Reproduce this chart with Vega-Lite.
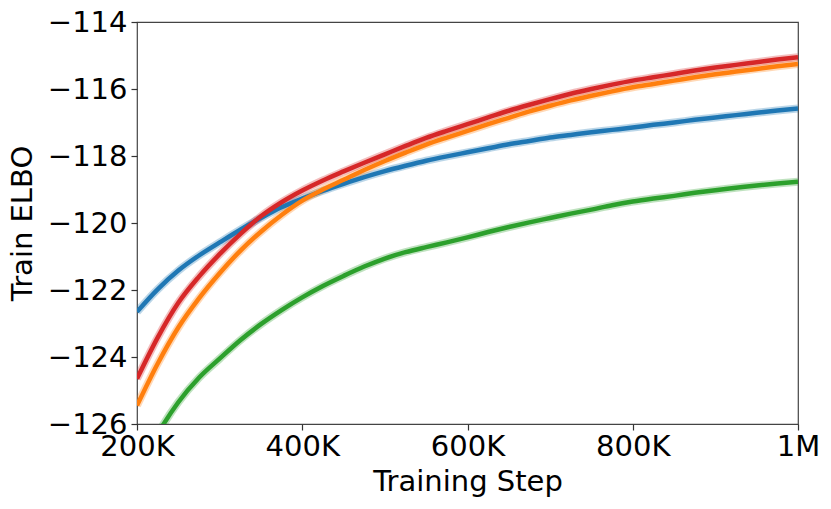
{
  "$schema": "https://vega.github.io/schema/vega-lite/v6.json",
  "width": 661,
  "height": 402,
  "autosize": {"type": "none"},
  "padding": {"left": 137, "top": 22, "right": 33, "bottom": 85},
  "config": {
    "font": "DejaVu Sans",
    "view": {"stroke": "#444", "strokeWidth": 1.2},
    "axis": {
      "grid": false,
      "domain": false,
      "ticks": true,
      "tickColor": "#333",
      "tickSize": 6,
      "tickWidth": 1.2,
      "labelFontSize": 29,
      "labelColor": "#000",
      "labelFlush": false,
      "labelOverlap": false,
      "labelBound": false,
      "titleFontSize": 29,
      "titleFontWeight": "normal",
      "titleColor": "#000"
    }
  },
  "data": {
    "values": [
      {"step": 200, "series": "A", "elbo": -127.5},
      {"step": 225, "series": "A", "elbo": -126.3},
      {"step": 250, "series": "A", "elbo": -125.35},
      {"step": 275, "series": "A", "elbo": -124.62},
      {"step": 300, "series": "A", "elbo": -124.05},
      {"step": 325, "series": "A", "elbo": -123.5},
      {"step": 350, "series": "A", "elbo": -123.02},
      {"step": 375, "series": "A", "elbo": -122.6},
      {"step": 400, "series": "A", "elbo": -122.22},
      {"step": 425, "series": "A", "elbo": -121.88},
      {"step": 450, "series": "A", "elbo": -121.58},
      {"step": 475, "series": "A", "elbo": -121.3},
      {"step": 500, "series": "A", "elbo": -121.06},
      {"step": 525, "series": "A", "elbo": -120.87},
      {"step": 550, "series": "A", "elbo": -120.72},
      {"step": 575, "series": "A", "elbo": -120.58},
      {"step": 600, "series": "A", "elbo": -120.43},
      {"step": 625, "series": "A", "elbo": -120.27},
      {"step": 650, "series": "A", "elbo": -120.12},
      {"step": 675, "series": "A", "elbo": -119.98},
      {"step": 700, "series": "A", "elbo": -119.85},
      {"step": 725, "series": "A", "elbo": -119.72},
      {"step": 750, "series": "A", "elbo": -119.6},
      {"step": 775, "series": "A", "elbo": -119.47},
      {"step": 800, "series": "A", "elbo": -119.36},
      {"step": 825, "series": "A", "elbo": -119.27},
      {"step": 850, "series": "A", "elbo": -119.19},
      {"step": 875, "series": "A", "elbo": -119.1},
      {"step": 900, "series": "A", "elbo": -119.02},
      {"step": 925, "series": "A", "elbo": -118.95},
      {"step": 950, "series": "A", "elbo": -118.88},
      {"step": 975, "series": "A", "elbo": -118.82},
      {"step": 1000, "series": "A", "elbo": -118.77},

      {"step": 200, "series": "B", "elbo": -122.65},
      {"step": 225, "series": "B", "elbo": -121.98},
      {"step": 250, "series": "B", "elbo": -121.42},
      {"step": 275, "series": "B", "elbo": -120.97},
      {"step": 300, "series": "B", "elbo": -120.58},
      {"step": 325, "series": "B", "elbo": -120.2},
      {"step": 350, "series": "B", "elbo": -119.85},
      {"step": 375, "series": "B", "elbo": -119.53},
      {"step": 400, "series": "B", "elbo": -119.27},
      {"step": 425, "series": "B", "elbo": -119.04},
      {"step": 450, "series": "B", "elbo": -118.83},
      {"step": 475, "series": "B", "elbo": -118.63},
      {"step": 500, "series": "B", "elbo": -118.45},
      {"step": 525, "series": "B", "elbo": -118.29},
      {"step": 550, "series": "B", "elbo": -118.14},
      {"step": 575, "series": "B", "elbo": -118.01},
      {"step": 600, "series": "B", "elbo": -117.89},
      {"step": 625, "series": "B", "elbo": -117.77},
      {"step": 650, "series": "B", "elbo": -117.65},
      {"step": 675, "series": "B", "elbo": -117.55},
      {"step": 700, "series": "B", "elbo": -117.45},
      {"step": 725, "series": "B", "elbo": -117.37},
      {"step": 750, "series": "B", "elbo": -117.29},
      {"step": 775, "series": "B", "elbo": -117.22},
      {"step": 800, "series": "B", "elbo": -117.15},
      {"step": 825, "series": "B", "elbo": -117.07},
      {"step": 850, "series": "B", "elbo": -117.0},
      {"step": 875, "series": "B", "elbo": -116.92},
      {"step": 900, "series": "B", "elbo": -116.85},
      {"step": 925, "series": "B", "elbo": -116.78},
      {"step": 950, "series": "B", "elbo": -116.71},
      {"step": 975, "series": "B", "elbo": -116.64},
      {"step": 1000, "series": "B", "elbo": -116.58},

      {"step": 200, "series": "C", "elbo": -125.45},
      {"step": 225, "series": "C", "elbo": -124.2},
      {"step": 250, "series": "C", "elbo": -123.12},
      {"step": 275, "series": "C", "elbo": -122.25},
      {"step": 300, "series": "C", "elbo": -121.5},
      {"step": 325, "series": "C", "elbo": -120.83},
      {"step": 350, "series": "C", "elbo": -120.26},
      {"step": 375, "series": "C", "elbo": -119.76},
      {"step": 400, "series": "C", "elbo": -119.33},
      {"step": 425, "series": "C", "elbo": -119.0},
      {"step": 450, "series": "C", "elbo": -118.71},
      {"step": 475, "series": "C", "elbo": -118.42},
      {"step": 500, "series": "C", "elbo": -118.15},
      {"step": 525, "series": "C", "elbo": -117.9},
      {"step": 550, "series": "C", "elbo": -117.66},
      {"step": 575, "series": "C", "elbo": -117.45},
      {"step": 600, "series": "C", "elbo": -117.25},
      {"step": 625, "series": "C", "elbo": -117.05},
      {"step": 650, "series": "C", "elbo": -116.86},
      {"step": 675, "series": "C", "elbo": -116.67},
      {"step": 700, "series": "C", "elbo": -116.5},
      {"step": 725, "series": "C", "elbo": -116.34},
      {"step": 750, "series": "C", "elbo": -116.2},
      {"step": 775, "series": "C", "elbo": -116.07},
      {"step": 800, "series": "C", "elbo": -115.95},
      {"step": 825, "series": "C", "elbo": -115.85},
      {"step": 850, "series": "C", "elbo": -115.75},
      {"step": 875, "series": "C", "elbo": -115.65},
      {"step": 900, "series": "C", "elbo": -115.56},
      {"step": 925, "series": "C", "elbo": -115.48},
      {"step": 950, "series": "C", "elbo": -115.4},
      {"step": 975, "series": "C", "elbo": -115.32},
      {"step": 1000, "series": "C", "elbo": -115.25},

      {"step": 200, "series": "D", "elbo": -124.65},
      {"step": 225, "series": "D", "elbo": -123.42},
      {"step": 250, "series": "D", "elbo": -122.38},
      {"step": 275, "series": "D", "elbo": -121.6},
      {"step": 300, "series": "D", "elbo": -120.93},
      {"step": 325, "series": "D", "elbo": -120.33},
      {"step": 350, "series": "D", "elbo": -119.8},
      {"step": 375, "series": "D", "elbo": -119.38},
      {"step": 400, "series": "D", "elbo": -119.03},
      {"step": 425, "series": "D", "elbo": -118.73},
      {"step": 450, "series": "D", "elbo": -118.46},
      {"step": 475, "series": "D", "elbo": -118.2},
      {"step": 500, "series": "D", "elbo": -117.95},
      {"step": 525, "series": "D", "elbo": -117.7},
      {"step": 550, "series": "D", "elbo": -117.46},
      {"step": 575, "series": "D", "elbo": -117.25},
      {"step": 600, "series": "D", "elbo": -117.05},
      {"step": 625, "series": "D", "elbo": -116.85},
      {"step": 650, "series": "D", "elbo": -116.65},
      {"step": 675, "series": "D", "elbo": -116.47},
      {"step": 700, "series": "D", "elbo": -116.3},
      {"step": 725, "series": "D", "elbo": -116.14},
      {"step": 750, "series": "D", "elbo": -116.0},
      {"step": 775, "series": "D", "elbo": -115.87},
      {"step": 800, "series": "D", "elbo": -115.75},
      {"step": 825, "series": "D", "elbo": -115.65},
      {"step": 850, "series": "D", "elbo": -115.55},
      {"step": 875, "series": "D", "elbo": -115.45},
      {"step": 900, "series": "D", "elbo": -115.36},
      {"step": 925, "series": "D", "elbo": -115.28},
      {"step": 950, "series": "D", "elbo": -115.2},
      {"step": 975, "series": "D", "elbo": -115.12},
      {"step": 1000, "series": "D", "elbo": -115.05}
    ]
  },
  "encoding": {
    "x": {
      "field": "step",
      "type": "quantitative",
      "scale": {"domain": [200, 1000], "nice": false, "zero": false},
      "axis": {
        "title": "Training Step",
        "values": [200, 400, 600, 800, 1000],
        "labelExpr": "datum.value == 1000 ? '1M' : datum.value + 'K'",
        "labelPadding": 2,
        "titlePadding": 6
      }
    },
    "y": {
      "field": "elbo",
      "type": "quantitative",
      "scale": {"domain": [-126, -114], "nice": false, "zero": false},
      "axis": {
        "title": "Train ELBO",
        "values": [-126, -124, -122, -120, -118, -116, -114],
        "format": "d",
        "labelPadding": 4,
        "titlePadding": 10
      }
    },
    "color": {
      "field": "series",
      "type": "nominal",
      "scale": {"domain": ["A", "B", "C", "D"], "range": ["#2ca02c", "#1f77b4", "#ff7f0e", "#d62728"]},
      "legend": null
    }
  },
  "layer": [
    {
      "mark": {"type": "line", "strokeWidth": 8, "opacity": 0.3, "clip": true, "interpolate": "monotone"}
    },
    {
      "mark": {"type": "line", "strokeWidth": 4.5, "clip": true, "interpolate": "monotone"}
    }
  ]
}
